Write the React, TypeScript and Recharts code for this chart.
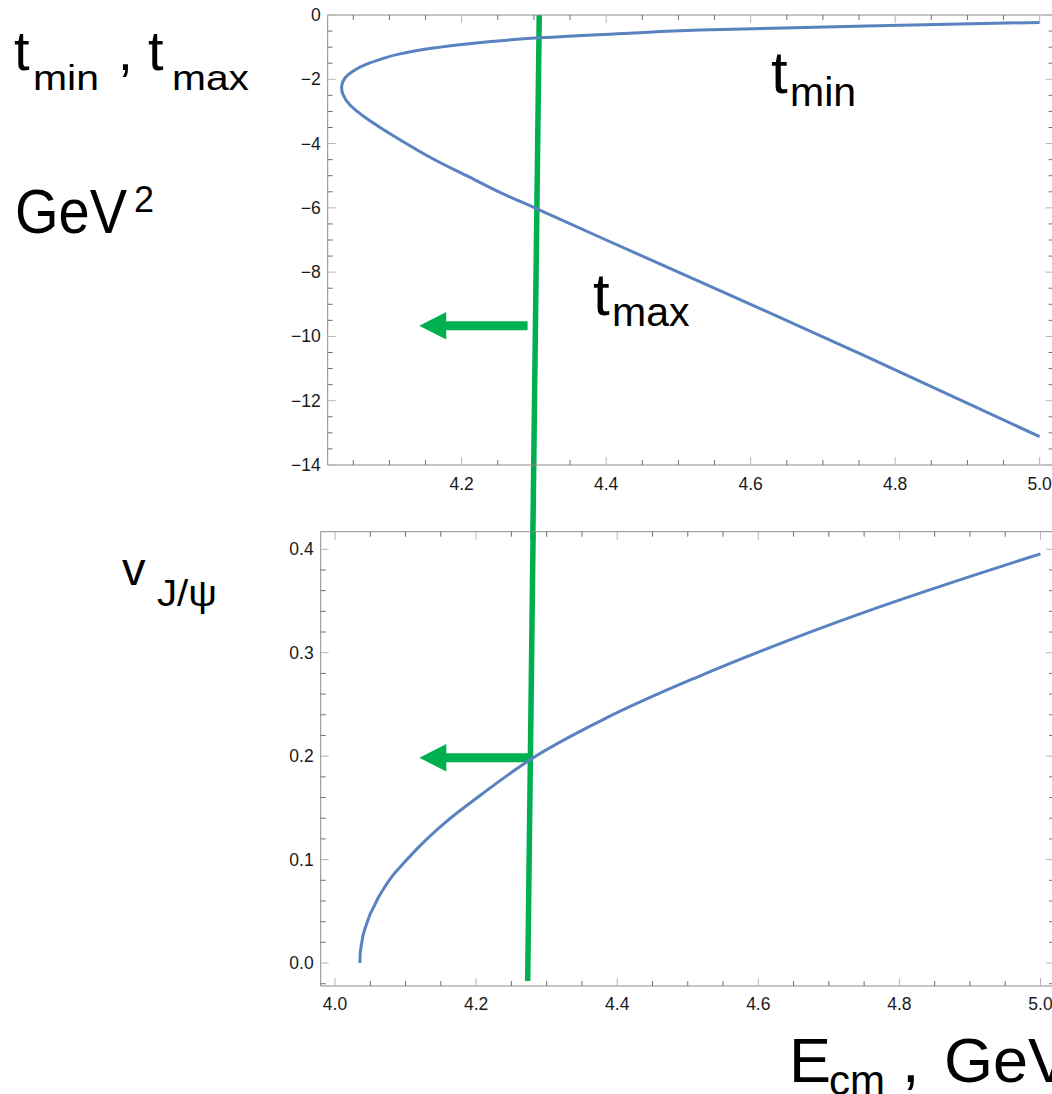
import React from 'react';
import { LineChart, Line, XAxis, YAxis, ReferenceLine } from 'recharts';

// ---- top panel: t_min / t_max (GeV^2) vs E_cm (GeV); traced from t_min at 5.0 around the turning point to t_max at 5.0
const tCurveE = [5.0, 4.7606, 4.5298, 4.4375, 4.3074, 4.2069, 4.1607, 4.1146, 4.0915, 4.0685, 4.05, 4.0385, 4.0339, 4.0361, 4.0454, 4.0685, 4.0915, 4.1146, 4.1607, 4.2069, 4.253, 4.3074, 4.4, 4.6, 4.8, 5.0];
const tCurveT = [-0.23, -0.342, -0.467, -0.56, -0.71, -0.9, -1.03, -1.21, -1.35, -1.53, -1.74, -1.96, -2.23, -2.49, -2.8, -3.22, -3.56, -3.88, -4.48, -5.0, -5.52, -6.06, -7.0, -9.0, -11.04, -13.12];

// ---- bottom panel: v_J/psi vs E_cm
const vCurveE = [4.0352, 4.0356, 4.0365, 4.038, 4.0395, 4.042, 4.0449, 4.0497, 4.0547, 4.062, 4.07, 4.08, 4.0971, 4.12, 4.1556, 4.2076, 4.276, 4.3834, 4.5135, 4.6437, 4.774, 4.904, 5.0];
const vCurveV = [0, 0.008, 0.014, 0.02, 0.026, 0.032, 0.038, 0.047, 0.054, 0.064, 0.073, 0.083, 0.0964, 0.113, 0.1355, 0.163, 0.1963, 0.2365, 0.2765, 0.3122, 0.3448, 0.3746, 0.3956];

// ---- annotations (green guide line and arrows)
const topGreenE = [4.3074, 4.2985];
const topGreenT = [0, -16.3];
const botGreenE = [4.2808, 4.2731];
const botGreenV = [0.417, -0.0174];
const topArrowE = [4.2913, 4.1413];
const topArrowT = -9.667;
const botArrowE = [4.274, 4.1195];
const botArrowV = 0.1985;

// ---- axes
const topXDomain = [4.0146, 5.0193];
const topYDomain = [-14, 0];
const botXDomain = [3.9797, 5.0193];
const botYDomain = [-0.0222, 0.417];
const topXMajor = [4.2, 4.4, 4.6, 4.8, 5.0];
const topXTicks = [4.05, 4.1, 4.15, 4.2, 4.25, 4.3, 4.35, 4.4, 4.45, 4.5, 4.55, 4.6, 4.65, 4.7, 4.75, 4.8, 4.85, 4.9, 4.95, 5.0];
const topYMajor = [0, -2, -4, -6, -8, -10, -12, -14];
const topYTicks = [0, -0.5, -1, -1.5, -2, -2.5, -3, -3.5, -4, -4.5, -5, -5.5, -6, -6.5, -7, -7.5, -8, -8.5, -9, -9.5, -10, -10.5, -11, -11.5, -12, -12.5, -13, -13.5, -14];
const botXMajor = [4.0, 4.2, 4.4, 4.6, 4.8, 5.0];
const botXTicks = [4.0, 4.05, 4.1, 4.15, 4.2, 4.25, 4.3, 4.35, 4.4, 4.45, 4.5, 4.55, 4.6, 4.65, 4.7, 4.75, 4.8, 4.85, 4.9, 4.95, 5.0];
const botYMajor = [0, 0.1, 0.2, 0.3, 0.4];
const botYTicks = [-0.02, 0, 0.02, 0.04, 0.06, 0.08, 0.1, 0.12, 0.14, 0.16, 0.18, 0.2, 0.22, 0.24, 0.26, 0.28, 0.3, 0.32, 0.34, 0.36, 0.38, 0.4];

const topData = tCurveE.map((E, i) => ({ E, t: tCurveT[i] }));
const botData = vCurveE.map((E, i) => ({ E, v: vCurveV[i] }));

const BLUE = '#5882c0';
const GREEN = '#00b050';
const FRAME = '#8c8c8c';
const FONT = '"Liberation Sans", Arial, Helvetica, sans-serif';

const fmtTopY = (v: number) => (v === 0 ? '0' : '\u2212' + Math.abs(v));
const fmt1 = (v: number) => v.toFixed(1);

const FrameTick = (props: any) => {
  const { x, y, payload, side, majors, fmt, showLabel, dy } = props;
  const v = payload.value;
  const major = majors.some((m: number) => Math.abs(m - v) < 1e-6);
  const len = major ? 8 : 5;
  const col = major ? '#b4b4b4' : '#6e6e6e';
  let x2 = x;
  let y2 = y;
  if (side === 'bottom') y2 = y - len;
  if (side === 'top') y2 = y + len;
  if (side === 'left') x2 = x + len;
  if (side === 'right') x2 = x - len;
  let label = null;
  if (showLabel && major) {
    if (side === 'bottom') {
      label = (
        <text x={x} y={y + dy} textAnchor="middle" fontFamily={FONT} fontSize={17.5} fill="#1a1a1a">
          {fmt(v)}
        </text>
      );
    } else if (side === 'left') {
      label = (
        <text x={x - 7} y={y + 6} textAnchor="end" fontFamily={FONT} fontSize={17.5} fill="#1a1a1a">
          {fmt(v)}
        </text>
      );
    }
  }
  return (
    <g>
      <line x1={x} y1={y} x2={x2} y2={y2} stroke={col} strokeWidth={1} />
      {label}
    </g>
  );
};

const ArrowShape = (props: any) => {
  const { x1, y1, x2, y2 } = props;
  const dx = x2 - x1;
  const dyv = y2 - y1;
  const L = Math.sqrt(dx * dx + dyv * dyv) || 1;
  const ux = dx / L;
  const uy = dyv / L;
  const px = -uy;
  const py = ux;
  const headLen = 27;
  const headHalf = 13.8;
  const bx = x2 - ux * headLen;
  const by = y2 - uy * headLen;
  const pts = [
    [x2, y2],
    [bx + px * headHalf, by + py * headHalf],
    [bx - px * headHalf, by - py * headHalf],
  ]
    .map((p) => p.join(','))
    .join(' ');
  return (
    <g>
      <line x1={x1} y1={y1} x2={bx + ux * 1} y2={by + uy * 1} stroke={GREEN} strokeWidth={9} />
      <polygon points={pts} fill={GREEN} />
    </g>
  );
};

const axisLine = { stroke: FRAME, strokeWidth: 1 };

const TopChart = () => (
  <LineChart width={1060} height={540} data={topData} margin={{ top: 14, right: 5.4, left: 267.7, bottom: 45 }}>
    <XAxis
      xAxisId="b"
      type="number"
      dataKey="E"
      domain={topXDomain}
      allowDataOverflow
      ticks={topXTicks}
      interval={0}
      tickSize={0}
      tickMargin={0}
      tickLine={false}
      axisLine={axisLine}
      height={30}
      tick={(p: any) => <FrameTick {...p} side="bottom" majors={topXMajor} fmt={fmt1} showLabel dy={25} />}
    />
    <XAxis
      xAxisId="t"
      orientation="top"
      type="number"
      dataKey="E"
      domain={topXDomain}
      allowDataOverflow
      ticks={topXTicks}
      interval={0}
      tickSize={0}
      tickMargin={0}
      tickLine={false}
      axisLine={axisLine}
      height={1}
      tick={(p: any) => <FrameTick {...p} side="top" majors={topXMajor} fmt={fmt1} showLabel={false} />}
    />
    <YAxis
      yAxisId="l"
      type="number"
      domain={topYDomain}
      allowDataOverflow
      ticks={topYTicks}
      interval={0}
      tickSize={0}
      tickMargin={0}
      tickLine={false}
      axisLine={axisLine}
      width={60}
      tick={(p: any) => <FrameTick {...p} side="left" majors={topYMajor} fmt={fmtTopY} showLabel />}
    />
    <YAxis
      yAxisId="r"
      orientation="right"
      type="number"
      domain={topYDomain}
      allowDataOverflow
      ticks={topYTicks}
      interval={0}
      tickSize={0}
      tickMargin={0}
      tickLine={false}
      axisLine={axisLine}
      width={1}
      tick={(p: any) => <FrameTick {...p} side="right" majors={topYMajor} fmt={fmtTopY} showLabel={false} />}
    />
    <ReferenceLine
      xAxisId="b"
      yAxisId="l"
      ifOverflow="visible"
      segment={[
        { x: topGreenE[0], y: topGreenT[0] },
        { x: topGreenE[1], y: topGreenT[1] },
      ]}
      stroke={GREEN}
      strokeWidth={5.5}
    />
    <ReferenceLine
      xAxisId="b"
      yAxisId="l"
      ifOverflow="visible"
      segment={[
        { x: topArrowE[0], y: topArrowT },
        { x: topArrowE[1], y: topArrowT },
      ]}
      shape={(p: any) => <ArrowShape {...p} />}
    />
    <Line
      xAxisId="b"
      yAxisId="l"
      type="natural"
      dataKey="t"
      stroke={BLUE}
      strokeWidth={3}
      dot={false}
      isAnimationActive={false}
    />
  </LineChart>
);

const BottomChart = () => (
  <LineChart width={1060} height={594} data={botData} margin={{ top: 30.7, right: 4.9, left: 260.7, bottom: 78 }}>
    <XAxis
      xAxisId="b"
      type="number"
      dataKey="E"
      domain={botXDomain}
      allowDataOverflow
      ticks={botXTicks}
      interval={0}
      tickSize={0}
      tickMargin={0}
      tickLine={false}
      axisLine={axisLine}
      height={30}
      tick={(p: any) => <FrameTick {...p} side="bottom" majors={botXMajor} fmt={fmt1} showLabel dy={24} />}
    />
    <XAxis
      xAxisId="t"
      orientation="top"
      type="number"
      dataKey="E"
      domain={botXDomain}
      allowDataOverflow
      ticks={botXTicks}
      interval={0}
      tickSize={0}
      tickMargin={0}
      tickLine={false}
      axisLine={axisLine}
      height={1}
      tick={(p: any) => <FrameTick {...p} side="top" majors={botXMajor} fmt={fmt1} showLabel={false} />}
    />
    <YAxis
      yAxisId="l"
      type="number"
      domain={botYDomain}
      allowDataOverflow
      ticks={botYTicks}
      interval={0}
      tickSize={0}
      tickMargin={0}
      tickLine={false}
      axisLine={axisLine}
      width={60}
      tick={(p: any) => <FrameTick {...p} side="left" majors={botYMajor} fmt={fmt1} showLabel />}
    />
    <YAxis
      yAxisId="r"
      orientation="right"
      type="number"
      domain={botYDomain}
      allowDataOverflow
      ticks={botYTicks}
      interval={0}
      tickSize={0}
      tickMargin={0}
      tickLine={false}
      axisLine={axisLine}
      width={1}
      tick={(p: any) => <FrameTick {...p} side="right" majors={botYMajor} fmt={fmt1} showLabel={false} />}
    />
    <ReferenceLine
      xAxisId="b"
      yAxisId="l"
      ifOverflow="visible"
      segment={[
        { x: botGreenE[0], y: botGreenV[0] },
        { x: botGreenE[1], y: botGreenV[1] },
      ]}
      stroke={GREEN}
      strokeWidth={5.5}
    />
    <ReferenceLine
      xAxisId="b"
      yAxisId="l"
      ifOverflow="visible"
      segment={[
        { x: botArrowE[0], y: botArrowV },
        { x: botArrowE[1], y: botArrowV },
      ]}
      shape={(p: any) => <ArrowShape {...p} />}
    />
    <Line
      xAxisId="b"
      yAxisId="l"
      type="monotone"
      dataKey="v"
      stroke={BLUE}
      strokeWidth={3}
      dot={false}
      isAnimationActive={false}
    />
  </LineChart>
);

const Labels = () => (
  <svg width={1052} height={1094} style={{ position: 'absolute', left: 0, top: 0, pointerEvents: 'none' }}>
    <g fontFamily={FONT} fill="#000">
      {/* top-left axis title */}
      <text x={14} y={70} fontSize={56}>t</text>
      <text x={33} y={90} fontSize={35} textLength={66} lengthAdjust="spacingAndGlyphs">min</text>
      <text x={118} y={70} fontSize={53}>,</text>
      <text x={148} y={70} fontSize={56}>t</text>
      <text x={172} y={90} fontSize={35} textLength={77} lengthAdjust="spacingAndGlyphs">max</text>
      <text x={15} y={233} fontSize={63} textLength={112} lengthAdjust="spacingAndGlyphs">GeV</text>
      <text x={134} y={212} fontSize={36}>2</text>
      {/* curve labels */}
      <text x={771} y={93} fontSize={60}>t</text>
      <text x={790} y={106} fontSize={41}>min</text>
      <text x={593} y={315} fontSize={60}>t</text>
      <text x={612} y={326} fontSize={41}>max</text>
      {/* bottom axis titles */}
      <text x={122} y={585} fontSize={47}>v</text>
      <text x={157} y={606} fontSize={36} textLength={60} lengthAdjust="spacingAndGlyphs">J/ψ</text>
      <text x={789} y={1082} fontSize={63}>E</text>
      <text x={829} y={1095} fontSize={42}>cm</text>
      <text x={902} y={1082} fontSize={63}>,</text>
      <text x={944} y={1082} fontSize={63}>GeV</text>
    </g>
  </svg>
);

export default function App() {
  return (
    <div style={{ position: 'absolute', left: 0, top: 0, width: 1052, height: 1094, overflow: 'hidden', background: '#fff' }}>
      <div style={{ position: 'absolute', left: 0, top: 0 }}>
        <TopChart />
      </div>
      <div style={{ position: 'absolute', left: 0, top: 500 }}>
        <BottomChart />
      </div>
      <Labels />
    </div>
  );
}
